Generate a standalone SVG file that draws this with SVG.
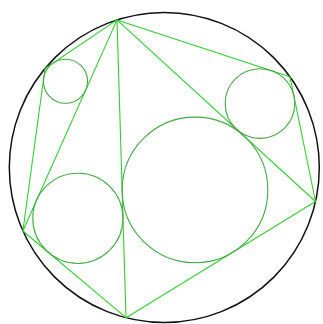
<svg xmlns="http://www.w3.org/2000/svg" width="323" height="324" viewBox="0 0 323 324">
<style>
.outer{fill:none;stroke:#111;stroke-width:1.5}
.edge{fill:none;stroke:#33cc33;stroke-width:1.1;stroke-linejoin:round}
.inc{fill:none;stroke:#44a844;stroke-width:1.1}
</style>
<rect width="323" height="324" fill="#fff"/>
<g id="outer-circle"><circle class="outer" cx="164.3" cy="167.5" r="155"/></g>
<g id="connectors">
<polygon class="edge" points="117,19.9 290,76.8 315.5,201.5 126,317.7 22.9,231 45,68.5"/>
<line class="edge" x1="117" y1="19.9" x2="22.9" y2="231"/>
<line class="edge" x1="117" y1="19.9" x2="126" y2="317.7"/>
<line class="edge" x1="117" y1="19.9" x2="315.5" y2="201.5"/>
</g>
<g id="incircle-AFE"><circle class="inc" cx="65.51" cy="81.25" r="22.05"/></g>
<g id="incircle-AED"><circle class="inc" cx="77.90" cy="218.35" r="45.08"/></g>
<g id="incircle-ADC"><circle class="inc" cx="195.0" cy="189.96" r="72.83"/></g>
<g id="incircle-ACB"><circle class="inc" cx="259.96" cy="103.54" r="34.79"/></g>
</svg>
